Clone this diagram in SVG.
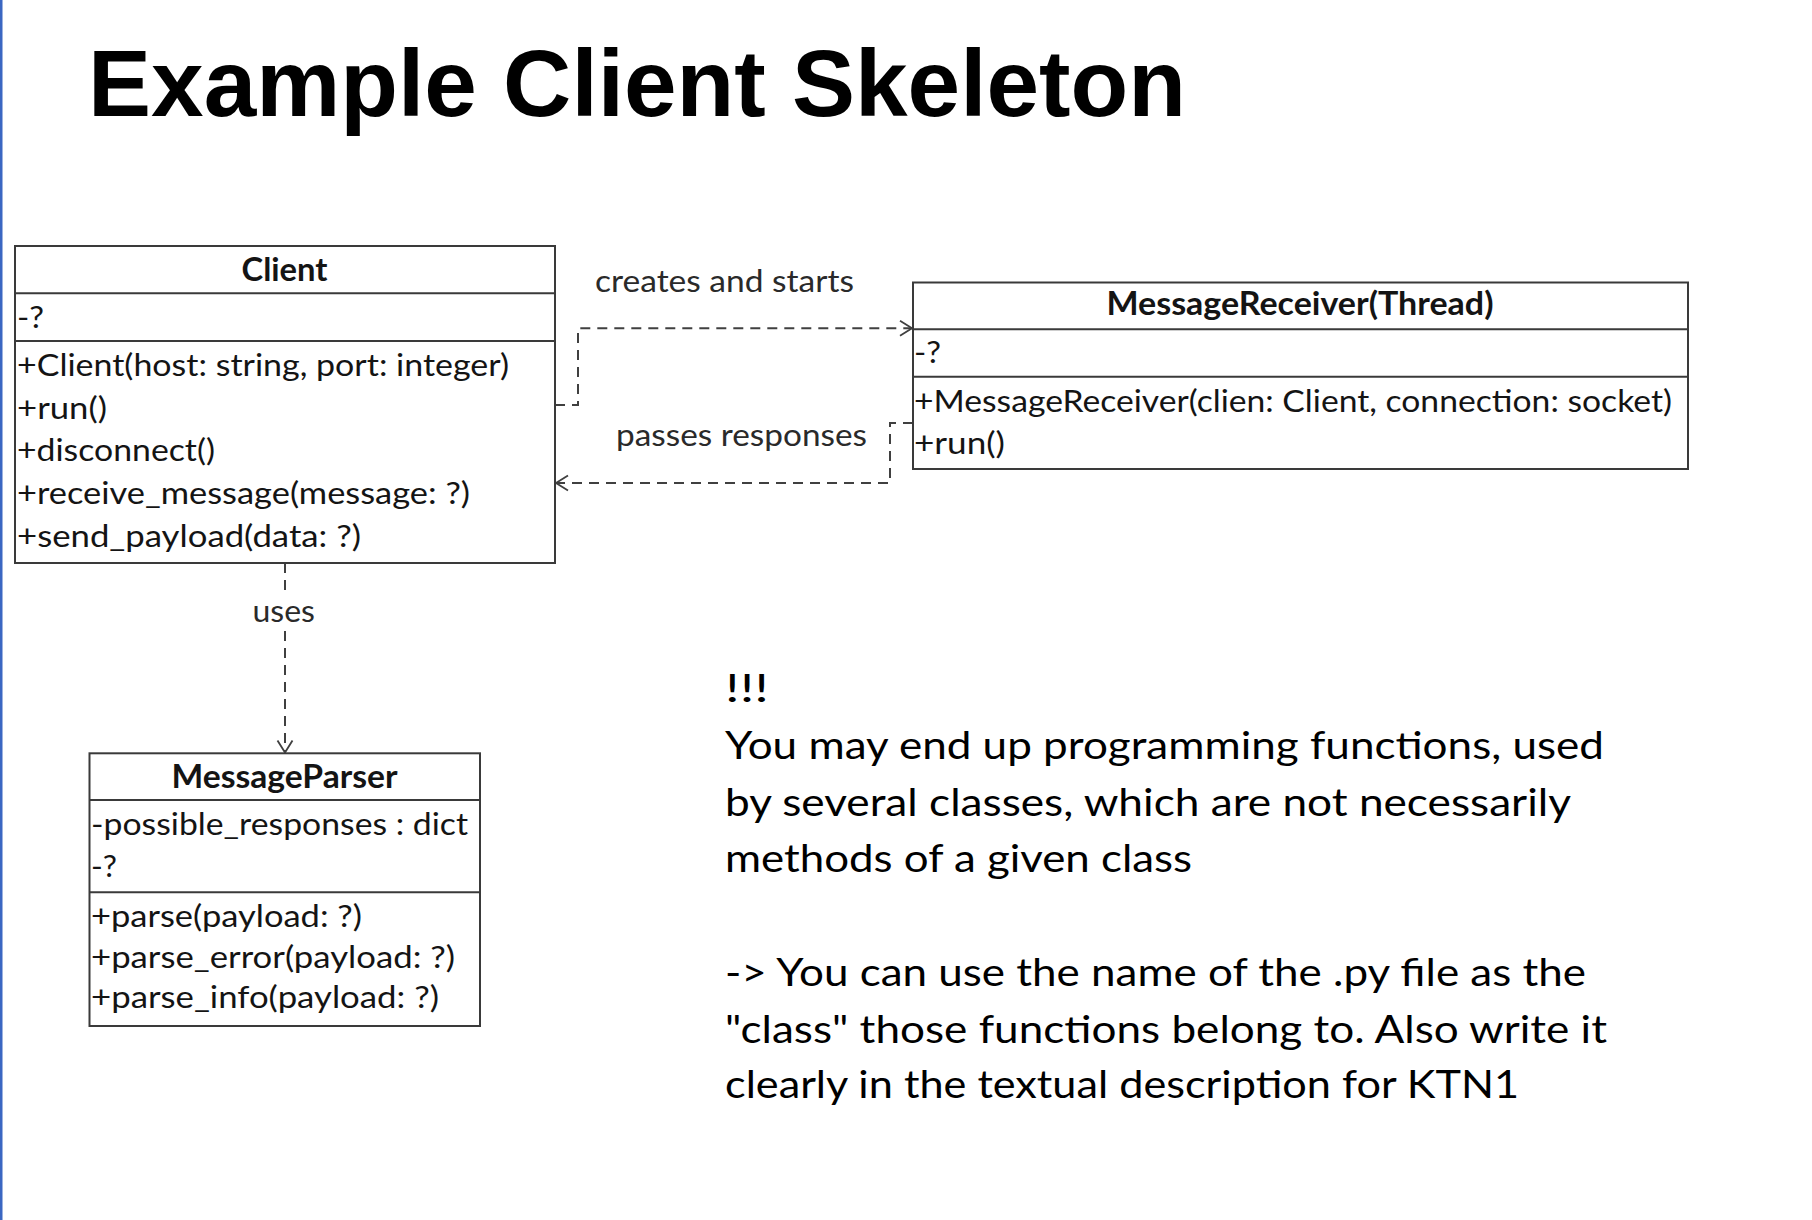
<svg xmlns="http://www.w3.org/2000/svg" width="1812" height="1220" viewBox="0 0 1812 1220">
  <style>
    .box { fill: #ffffff; stroke: #3a3a3a; stroke-width: 2; }
    .sep { stroke: #3a3a3a; stroke-width: 2; }
    .uml { font-family: Lato, "Liberation Sans", sans-serif; font-size: 31.5px; fill: #141414; }
    .hdr { font-family: Lato, "Liberation Sans", sans-serif; font-size: 31.5px; font-weight: bold; fill: #141414; text-anchor: middle; }
    .lbl { font-family: Lato, "Liberation Sans", sans-serif; font-size: 31.5px; fill: #2a2a2a; }
    .note { font-family: Lato, "Liberation Sans", sans-serif; font-size: 38.5px; fill: #000000; }
    .title { font-family: "Liberation Sans", Arial, sans-serif; font-size: 94.5px; font-weight: bold; fill: #000000; }
    .dep { fill: none; stroke: #404040; stroke-width: 2; stroke-dasharray: 10 7; }
  </style>
  <defs>
    <marker id="open" markerUnits="userSpaceOnUse" markerWidth="30" markerHeight="30" viewBox="-15 -15 30 30" refX="0" refY="0" orient="auto">
      <path d="M-12,-7.5 L0,0 L-12,7.5" fill="none" stroke="#404040" stroke-width="1.8"/>
    </marker>
  </defs>

  <rect x="0" y="0" width="1812" height="1220" fill="#ffffff"/>
  <!-- slide edge -->
  <rect x="0" y="0" width="2.5" height="1220" fill="#3b67c2"/>

  <text class="title" x="88" y="116" textLength="1098" lengthAdjust="spacingAndGlyphs">Example Client Skeleton</text>

  <!-- dependencies -->
  <g id="connectors">
    <path class="dep" d="M555,405 H578 V328.3 H912" marker-end="url(#open)"/>
    <path class="dep" d="M913,423 H890 V483 H556" marker-end="url(#open)"/>
    <path class="dep" d="M285,563 V752.5" marker-end="url(#open)"/>
    <text class="lbl" x="595" y="291.5" textLength="259" lengthAdjust="spacingAndGlyphs">creates and starts</text>
    <text class="lbl" x="616" y="446" textLength="251" lengthAdjust="spacingAndGlyphs">passes responses</text>
    <rect x="250" y="592" width="70" height="38" fill="#ffffff"/>
    <text class="lbl" x="252.5" y="621.5" textLength="62.5" lengthAdjust="spacingAndGlyphs">uses</text>
  </g>

  <!-- Client class -->
  <g id="client">
    <rect class="box" x="15" y="246" width="540" height="317"/>
    <line class="sep" x1="15" y1="293.3" x2="555" y2="293.3"/>
    <line class="sep" x1="15" y1="341" x2="555" y2="341"/>
    <text class="hdr" x="284.5" y="280.5" textLength="86" lengthAdjust="spacingAndGlyphs">Client</text>
    <text class="uml" x="17" y="327.5" textLength="27" lengthAdjust="spacingAndGlyphs">-?</text>
    <text class="uml" x="17" y="376" textLength="492" lengthAdjust="spacingAndGlyphs">+Client(host: string, port: integer)</text>
    <text class="uml" x="17" y="418.5" textLength="90" lengthAdjust="spacingAndGlyphs">+run()</text>
    <text class="uml" x="17" y="461.3" textLength="198" lengthAdjust="spacingAndGlyphs">+disconnect()</text>
    <text class="uml" x="17" y="504" textLength="453" lengthAdjust="spacingAndGlyphs">+receive_message(message: ?)</text>
    <text class="uml" x="17" y="546.7" textLength="344" lengthAdjust="spacingAndGlyphs">+send_payload(data: ?)</text>
  </g>

  <!-- MessageReceiver class -->
  <g id="message-receiver">
    <rect class="box" x="913" y="282.5" width="775" height="186.5"/>
    <line class="sep" x1="913" y1="329.3" x2="1688" y2="329.3"/>
    <line class="sep" x1="913" y1="376.7" x2="1688" y2="376.7"/>
    <text class="hdr" x="1300" y="315" textLength="387" lengthAdjust="spacingAndGlyphs">MessageReceiver(Thread)</text>
    <text class="uml" x="914" y="363.3" textLength="27" lengthAdjust="spacingAndGlyphs">-?</text>
    <text class="uml" x="914" y="411.7" textLength="758" lengthAdjust="spacingAndGlyphs">+MessageReceiver(clien: Client, connection: socket)</text>
    <text class="uml" x="914" y="454" textLength="91" lengthAdjust="spacingAndGlyphs">+run()</text>
  </g>

  <!-- MessageParser class -->
  <g id="message-parser">
    <rect class="box" x="89.5" y="753.3" width="390.5" height="272.7"/>
    <line class="sep" x1="89.5" y1="800" x2="480" y2="800"/>
    <line class="sep" x1="89.5" y1="892.3" x2="480" y2="892.3"/>
    <text class="hdr" x="284.5" y="787.7" textLength="226" lengthAdjust="spacingAndGlyphs">MessageParser</text>
    <text class="uml" x="91" y="835" textLength="377" lengthAdjust="spacingAndGlyphs">-possible_responses : dict</text>
    <text class="uml" x="91" y="876.7" textLength="26" lengthAdjust="spacingAndGlyphs">-?</text>
    <text class="uml" x="91" y="926.7" textLength="271" lengthAdjust="spacingAndGlyphs">+parse(payload: ?)</text>
    <text class="uml" x="91" y="967.5" textLength="364" lengthAdjust="spacingAndGlyphs">+parse_error(payload: ?)</text>
    <text class="uml" x="91" y="1008" textLength="348" lengthAdjust="spacingAndGlyphs">+parse_info(payload: ?)</text>
  </g>

  <!-- side note -->
  <g id="note">
    <text class="note" x="725" y="702" textLength="44" lengthAdjust="spacingAndGlyphs">!!!</text>
    <text class="note" x="725" y="759" textLength="879" lengthAdjust="spacingAndGlyphs">You may end up programming functions, used</text>
    <text class="note" x="725" y="815.5" textLength="846" lengthAdjust="spacingAndGlyphs">by several classes, which are not necessarily</text>
    <text class="note" x="725" y="872" textLength="467" lengthAdjust="spacingAndGlyphs">methods of a given class</text>
    <text class="note" x="725" y="986" textLength="861" lengthAdjust="spacingAndGlyphs">-&gt; You can use the name of the .py file as the</text>
    <text class="note" x="725" y="1042.5" textLength="882" lengthAdjust="spacingAndGlyphs">"class" those functions belong to. Also write it</text>
    <text class="note" x="725" y="1097.5" textLength="794" lengthAdjust="spacingAndGlyphs">clearly in the textual description for KTN1</text>
  </g>
</svg>
